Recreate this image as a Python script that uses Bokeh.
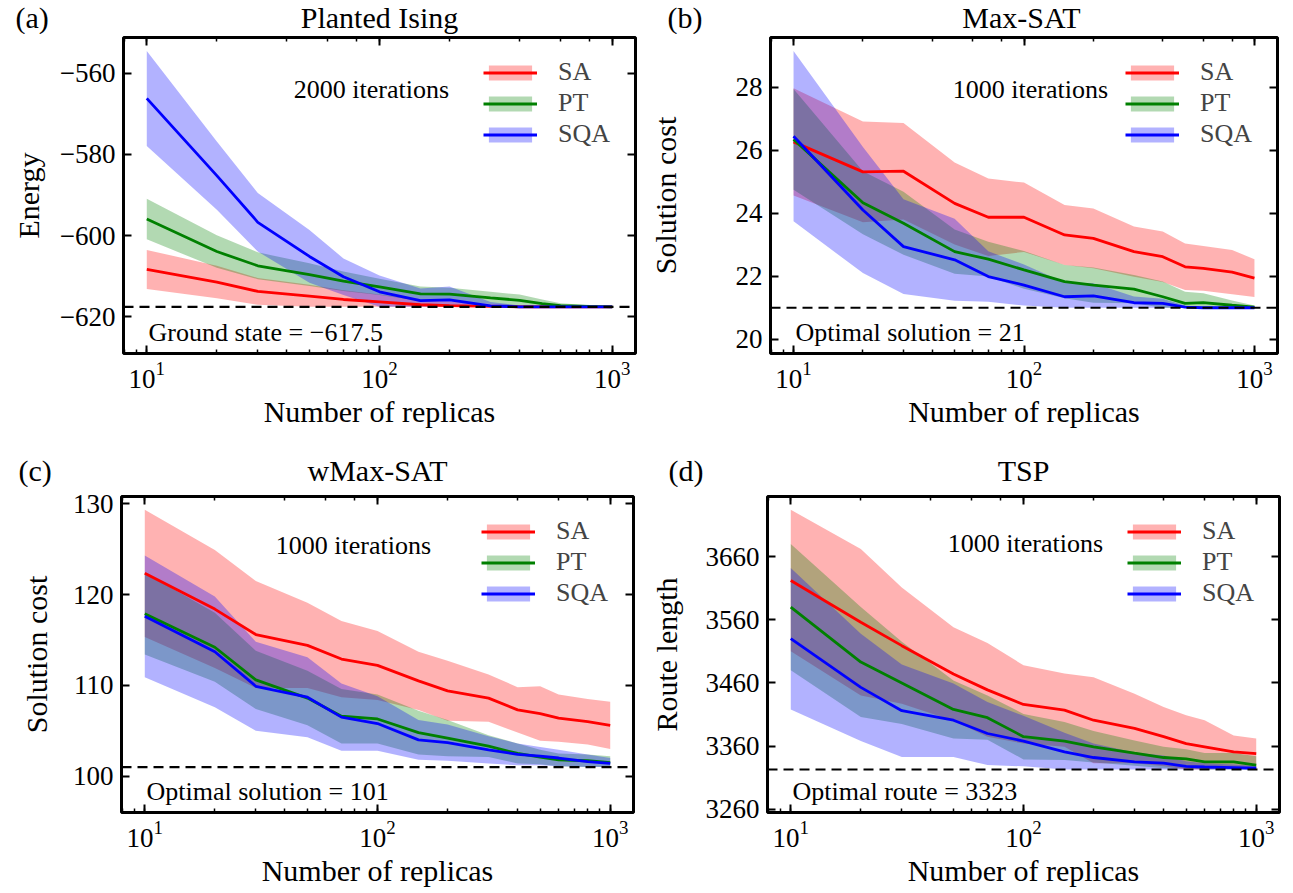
import numpy as np
from bokeh.plotting import figure
from bokeh.models import (Range1d, FixedTicker, LogAxis, LinearAxis, LogTicker, Span, Label,
                          Legend, LegendItem, CustomJSTickFormatter)
from bokeh.core.properties import value
from bokeh.layouts import column, row
from bokeh.embed import file_html
from bokeh.resources import INLINE

SERIF = "Liberation Serif"

replicas = [10, 20, 30, 50, 70, 100, 150, 200, 300, 400, 500, 600, 800, 1000]

# (a) Planted Ising
ising_sa_mean = [-608.3, -611.4, -613.7, -614.9, -615.7, -616.3, -617.0, -617.2, -617.4, -617.5, -617.5, -617.5, -617.5, -617.5]
ising_sa_std = [4.8, 4.0, 3.3, 2.8, 2.3, 1.8, 1.2, 1.0, 0.6, 0.4, 0.3, 0.2, 0.1, 0.05]
ising_pt_mean = [-595.9, -603.9, -607.4, -609.6, -611.2, -612.6, -614.3, -614.4, -615.3, -615.9, -616.7, -617.2, -617.4, -617.5]
ising_pt_std = [5.0, 4.0, 3.3, 2.8, 2.4, 2.0, 1.8, 1.6, 1.5, 1.4, 1.0, 0.6, 0.3, 0.1]
ising_sqa_mean = [-566.2, -585.2, -596.7, -605.1, -610.1, -613.8, -616.0, -615.8, -617.3, -617.5, -617.5, -617.5, -617.5, -617.5]
ising_sqa_std = [11.7, 8.4, 7.2, 6.5, 4.5, 4.0, 3.0, 3.3, 1.0, 0.3, 0.1, 0.05, 0.05, 0.05]
ising_ground = -617.5
ising_yticks = [-620, -600, -580, -560]
ising_ylabels = ["\u2212620", "\u2212600", "\u2212580", "\u2212560"]

# (b) Max-SAT
maxsat_sa_mean = [26.26, 25.31, 25.33, 24.31, 23.87, 23.87, 23.31, 23.2, 22.78, 22.62, 22.30, 22.25, 22.13, 21.94]
maxsat_sa_std = [1.7, 1.6, 1.53, 1.3, 1.23, 1.1, 0.95, 0.95, 0.8, 0.8, 0.74, 0.71, 0.7, 0.6]
maxsat_pt_mean = [26.34, 24.33, 23.68, 22.78, 22.54, 22.2, 21.83, 21.72, 21.59, 21.35, 21.14, 21.16, 21.08, 21.02]
maxsat_pt_std = [1.6, 1.0, 1.0, 0.7, 0.55, 0.6, 0.53, 0.56, 0.45, 0.48, 0.37, 0.3, 0.15, 0.05]
maxsat_sqa_mean = [26.44, 24.1, 22.94, 22.52, 21.99, 21.72, 21.35, 21.38, 21.16, 21.14, 21.02, 21.0, 21.0, 21.0]
maxsat_sqa_std = [2.7, 2.0, 1.5, 1.3, 0.8, 0.65, 0.45, 0.4, 0.2, 0.15, 0.05, 0.02, 0.02, 0.02]
maxsat_opt = 21
maxsat_yticks = [20, 22, 24, 26, 28]
maxsat_ylabels = ["20", "22", "24", "26", "28"]

# (c) wMax-SAT
wmaxsat_sa_mean = [122.34, 118.4, 115.6, 114.4, 112.9, 112.2, 110.5, 109.4, 108.6, 107.3, 106.9, 106.4, 106.0, 105.6]
wmaxsat_sa_std = [7.0, 6.5, 5.9, 4.7, 4.2, 3.8, 3.2, 3.3, 2.6, 2.5, 3.0, 2.6, 2.5, 2.6]
wmaxsat_pt_mean = [117.9, 114.2, 110.6, 108.6, 106.6, 106.3, 104.8, 104.2, 103.3, 102.5, 102.1, 101.8, 101.7, 101.5]
wmaxsat_pt_std = [4.5, 3.8, 3.2, 3.0, 3.0, 2.7, 2.4, 2.0, 1.2, 1.1, 0.8, 0.7, 0.7, 0.7]
wmaxsat_sqa_mean = [117.6, 113.7, 109.9, 108.7, 106.5, 105.8, 104.0, 103.7, 102.9, 102.4, 102.2, 102.0, 101.6, 101.4]
wmaxsat_sqa_std = [6.7, 6.1, 4.9, 4.4, 3.7, 3.0, 2.2, 2.0, 1.5, 1.2, 1.0, 0.9, 0.8, 0.6]
wmaxsat_opt = 101
wmaxsat_yticks = [100, 110, 120, 130]
wmaxsat_ylabels = ["100", "110", "120", "130"]

# (d) TSP
tsp_sa_mean = [3622, 3556, 3519, 3474, 3449, 3426, 3417, 3401, 3388, 3375, 3364, 3359, 3351, 3348]
tsp_sa_std = [112, 116, 92, 74, 74, 62, 58, 68, 55, 47, 45, 42, 26, 24]
tsp_pt_mean = [3580, 3493, 3460, 3418, 3405, 3375, 3368, 3359, 3349, 3342, 3340, 3335, 3335, 3330]
tsp_pt_std = [100, 87, 65, 46, 35, 36, 30, 25, 20, 17, 15, 14, 14, 14]
tsp_sqa_mean = [3530, 3453, 3416, 3401, 3380, 3368, 3351, 3342, 3335, 3333, 3328, 3327, 3326, 3325]
tsp_sqa_std = [112, 85, 73, 58, 50, 40, 30, 22, 15, 12, 8, 6, 5, 4]
tsp_opt = 3323
tsp_yticks = [3260, 3360, 3460, 3560, 3660]
tsp_ylabels = ["3260", "3360", "3460", "3560", "3660"]

methods = ["SA", "PT", "SQA"]
colors = ["#ff0000", "#008000", "#0000ff"]

panel_letters_top = ["(a)", "(b)"]
panel_titles_top = ["Planted Ising", "Max-SAT"]
panel_letters_bottom = ["(c)", "(d)"]
panel_titles_bottom = ["wMax-SAT", "TSP"]


def blank():
    return CustomJSTickFormatter(code="return ''")


def style_axis(ax, show_labels):
    ax.axis_line_color = None
    ax.major_tick_in = 8
    ax.major_tick_out = 0
    ax.minor_tick_in = 4
    ax.minor_tick_out = 0
    ax.major_tick_line_width = 2
    ax.minor_tick_line_width = 1.5
    ax.major_tick_line_color = "black"
    ax.minor_tick_line_color = "black"
    if show_labels:
        ax.major_label_text_font = SERIF
        ax.major_label_text_font_size = "27px"
        ax.major_label_text_color = "black"
        ax.major_label_standoff = 8
        ax.axis_label_text_font = SERIF
        ax.axis_label_text_font_size = "30px"
        ax.axis_label_text_font_style = "normal"
        ax.axis_label_text_color = "black"
    else:
        ax.major_label_text_font_size = "1px"
        ax.major_label_standoff = 0


def make_panel(ylabel, series, optimum, opt_text, iter_text, yr,
               yticks, ylabels, geom, iter_pos, ylab_standoff):
    width, height, bl, br, bt, bb = geom
    p = figure(width=width, height=height, x_axis_type="log",
               x_range=Range1d(10 ** 0.9, 10 ** 3.1), y_range=Range1d(*yr),
               output_backend="svg", toolbar_location=None,
               min_border_left=bl, min_border_right=br, min_border_top=bt, min_border_bottom=bb)
    p.xgrid.visible = False
    p.ygrid.visible = False
    p.outline_line_color = "black"
    p.outline_line_width = 3
    p.background_fill_color = "white"
    p.border_fill_color = "white"

    x = np.array(replicas, dtype=float)
    bands = []
    for (m, s), c in zip(series, colors):
        m = np.array(m, dtype=float)
        s = np.array(s, dtype=float)
        lo = np.maximum(m - s, optimum)
        hi = m + s
        bands.append(p.varea(x=x, y1=lo, y2=hi, fill_color=c, fill_alpha=0.3))
    lines = []
    for (m, s), c in zip(series, colors):
        lines.append(p.line(x=x, y=m, line_color=c, line_width=2.8))

    p.add_layout(Span(location=optimum, dimension="width", line_color="black",
                      line_width=2.2, line_dash="10 6"))

    xa = p.xaxis[0]
    style_axis(xa, True)
    xa.axis_label = "Number of replicas"
    xa.axis_label_standoff = 4
    ya = p.yaxis[0]
    style_axis(ya, True)
    ya.ticker = FixedTicker(ticks=yticks, minor_ticks=[])
    ya.major_label_overrides = {t: l for t, l in zip(yticks, ylabels)}
    ya.axis_label = ylabel
    ya.axis_label_standoff = ylab_standoff

    top = LogAxis(ticker=LogTicker(), formatter=blank())
    style_axis(top, False)
    p.add_layout(top, "above")
    right = LinearAxis(ticker=FixedTicker(ticks=yticks, minor_ticks=[]), formatter=blank())
    style_axis(right, False)
    p.add_layout(right, "right")

    items = [LegendItem(label=n, renderers=[b, l]) for n, b, l in zip(methods, bands, lines)]
    leg = Legend(items=items, location="top_right", margin=20, padding=0,
                 glyph_width=54, glyph_height=19, label_height=19, spacing=1,
                 label_standoff=21, label_width=57, label_text_font=SERIF,
                 label_text_font_size="26px", label_text_line_height=1.0,
                 border_line_color=None, background_fill_alpha=0)
    p.add_layout(leg)

    p.add_layout(Label(x=iter_pos[0], y=iter_pos[1], x_units="screen", y_units="screen",
                       text=iter_text, text_align="center", text_baseline="middle",
                       text_font=SERIF, text_font_size="26px", text_color="black"))
    p.add_layout(Label(x=25, y=21, x_units="screen", y_units="screen", text=opt_text,
                       text_align="left", text_baseline="middle", text_font=SERIF,
                       text_font_size="26px", text_color="black"))
    return p


def make_header(letters, letter_x, titles, title_x, height, mid_y):
    h = figure(width=1290, height=height, x_range=Range1d(0, 1290), y_range=Range1d(0, height),
               output_backend="svg", toolbar_location=None, x_axis_location=None,
               y_axis_location=None, title=None, min_border=0, min_border_left=0,
               min_border_right=0, min_border_top=0, min_border_bottom=0)
    h.outline_line_color = None
    h.xgrid.visible = False
    h.ygrid.visible = False
    h.text(x=letter_x, y=[mid_y] * len(letters), text=letters, text_align="left",
           text_baseline="middle", text_font=value(SERIF), text_font_size="30px",
           text_color="black")
    h.text(x=title_x, y=[mid_y] * len(titles), text=titles, text_align="center",
           text_baseline="middle", text_font=value(SERIF), text_font_size="30px",
           text_color="black")
    return h


pa = make_panel("Energy",
                [(ising_sa_mean, ising_sa_std), (ising_pt_mean, ising_pt_std), (ising_sqa_mean, ising_sqa_std)],
                ising_ground, "Ground state = \u2212617.5", "2000 iterations", (-629, -551.2),
                ising_yticks, ising_ylabels, (645, 419, 123, 10, 3, 100), (248, 264), 12)
pb = make_panel("Solution cost",
                [(maxsat_sa_mean, maxsat_sa_std), (maxsat_pt_mean, maxsat_pt_std), (maxsat_sqa_mean, maxsat_sqa_std)],
                maxsat_opt, "Optimal solution = 21", "1000 iterations", (19.55, 29.57),
                maxsat_yticks, maxsat_ylabels, (645, 419, 120, 13, 3, 100), (260, 264), 51)
pc = make_panel("Solution cost",
                [(wmaxsat_sa_mean, wmaxsat_sa_std), (wmaxsat_pt_mean, wmaxsat_pt_std), (wmaxsat_sqa_mean, wmaxsat_sqa_std)],
                wmaxsat_opt, "Optimal solution = 101", "1000 iterations", (96.0, 130.8),
                wmaxsat_yticks, wmaxsat_ylabels, (645, 403, 121, 12, 9, 78), (232, 267), 17)
pd_ = make_panel("Route length",
                 [(tsp_sa_mean, tsp_sa_std), (tsp_pt_mean, tsp_pt_std), (tsp_sqa_mean, tsp_sqa_std)],
                 tsp_opt, "Optimal route = 3323", "1000 iterations", (3255, 3755),
                 tsp_yticks, tsp_ylabels, (645, 403, 122, 11, 9, 78), (258, 269), 20)

h1 = make_header(panel_letters_top, [15, 667], panel_titles_top, [379, 1021], 34, 17)
h2 = make_header(panel_letters_bottom, [18, 668], panel_titles_bottom, [377, 1023], 34, 17)

layout = column(h1, row(pa, pb), h2, row(pc, pd_))
open("out.html", "w").write(file_html(layout, INLINE))
